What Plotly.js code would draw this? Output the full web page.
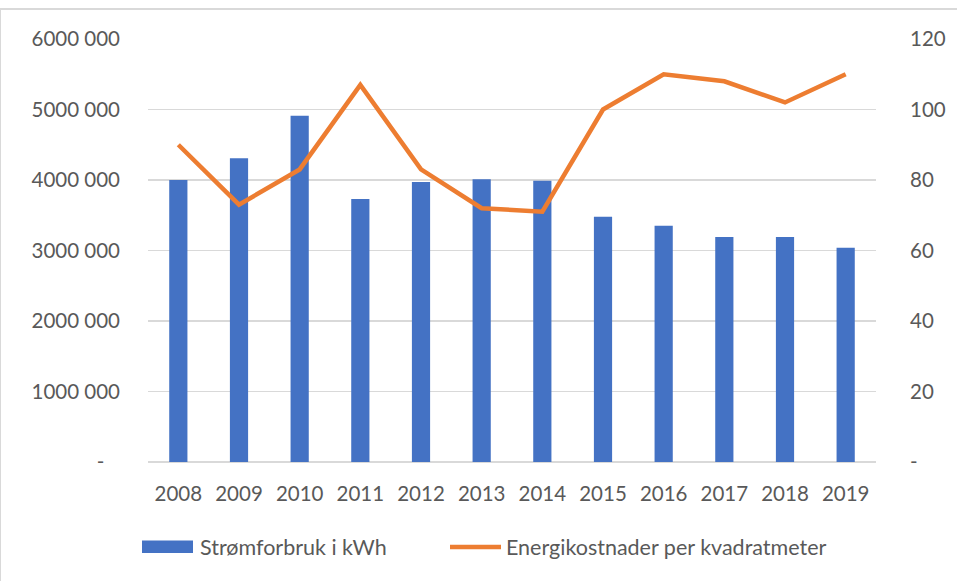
<!DOCTYPE html>
<html>
<head>
<meta charset="utf-8">
<script src="https://cdn.plot.ly/plotly-3.0.1.min.js"></script>
<style>html,body{margin:0;padding:0;background:#fff;}#chart{width:957px;height:581px;}</style>
</head>
<body>
<div id="chart"></div>
<script>
var years = ["2008","2009","2010","2011","2012","2013","2014","2015","2016","2017","2018","2019"];
var stromforbruk = [4000000, 4310000, 4910000, 3730000, 3970000, 4010000, 3990000, 3480000, 3350000, 3190000, 3190000, 3040000];
var energikostnader = [90, 73, 83, 107, 83, 72, 71, 100, 110, 108, 102, 110];
var leftTickVals = [0, 1000000, 2000000, 3000000, 4000000, 5000000, 6000000];
var leftTickText = ["-\u00a0\u00a0\u00a0", "1000 000", "2000 000", "3000 000", "4000 000", "5000 000", "6000 000"];
var rightTickVals = [0, 20, 40, 60, 80, 100, 120];
var rightTickText = ["-", "20", "40", "60", "80", "100", "120"];
var barName = "Strømforbruk i kWh";
var lineName = "Energikostnader per kvadratmeter";

var blue = "#4472C4", orange = "#ED7D31", grid = "#D9D9D9", txt = "#595959";
var font = {family: "Lato, 'Open Sans', sans-serif", size: 20.5, color: txt};
var legFont = {family: "Lato, 'Open Sans', sans-serif", size: 21.5, color: txt};

var traces = [
  {type: "bar", x: years, y: stromforbruk, name: barName, marker: {color: blue}, width: 0.3, yaxis: "y", showlegend: false},
  {type: "scatter", mode: "lines", x: years, y: energikostnader, name: lineName, line: {color: orange, width: 4.5}, yaxis: "y2", showlegend: false}
];

var layout = {
  width: 957, height: 581,
  margin: {l: 148, r: 81, t: 39, b: 119},
  paper_bgcolor: "#fff", plot_bgcolor: "#fff",
  font: font,
  showlegend: false,
  xaxis: {type: "category", showgrid: false, zeroline: false, showline: false, ticks: "", ticklabelstandoff: 17, tickfont: font},
  yaxis: {range: [0, 6000000], tickvals: leftTickVals, ticktext: leftTickText, showgrid: true, gridcolor: grid, gridwidth: 1.5, zeroline: true, zerolinecolor: grid, zerolinewidth: 1.5, showline: false, ticks: "", ticklabelstandoff: 27, tickfont: font},
  yaxis2: {range: [0, 120], tickvals: rightTickVals, ticktext: rightTickText, overlaying: "y", side: "right", showgrid: false, zeroline: false, showline: false, ticks: "", ticklabelstandoff: 33, tickfont: font},
  shapes: [
    {type: "line", xref: "paper", yref: "paper", x0: -148/728, x1: -148/728, y0: 1 + 30/423, y1: -130/423, line: {color: grid, width: 2}},
    {type: "line", xref: "paper", yref: "paper", x0: -148/728, x1: 1 + 90/728, y0: 1 + 30/423, y1: 1 + 30/423, line: {color: grid, width: 2}},
    {type: "rect", xref: "paper", yref: "paper", x0: (142-148)/728, x1: (193-148)/728, y0: (462-553)/423, y1: (462-540.5)/423, fillcolor: blue, line: {width: 0}},
    {type: "line", xref: "paper", yref: "paper", x0: (450-148)/728, x1: (501-148)/728, y0: (462-547)/423, y1: (462-547)/423, line: {color: orange, width: 4.5}}
  ],
  annotations: [
    {xref: "paper", yref: "paper", x: (198-148)/728, y: (462-547)/423, xanchor: "left", yanchor: "middle", text: barName, showarrow: false, font: legFont},
    {xref: "paper", yref: "paper", x: (504-148)/728, y: (462-547)/423, xanchor: "left", yanchor: "middle", text: lineName, showarrow: false, font: legFont}
  ]
};

Plotly.newPlot("chart", traces, layout, {displayModeBar: false, staticPlot: true});
</script>
</body>
</html>
